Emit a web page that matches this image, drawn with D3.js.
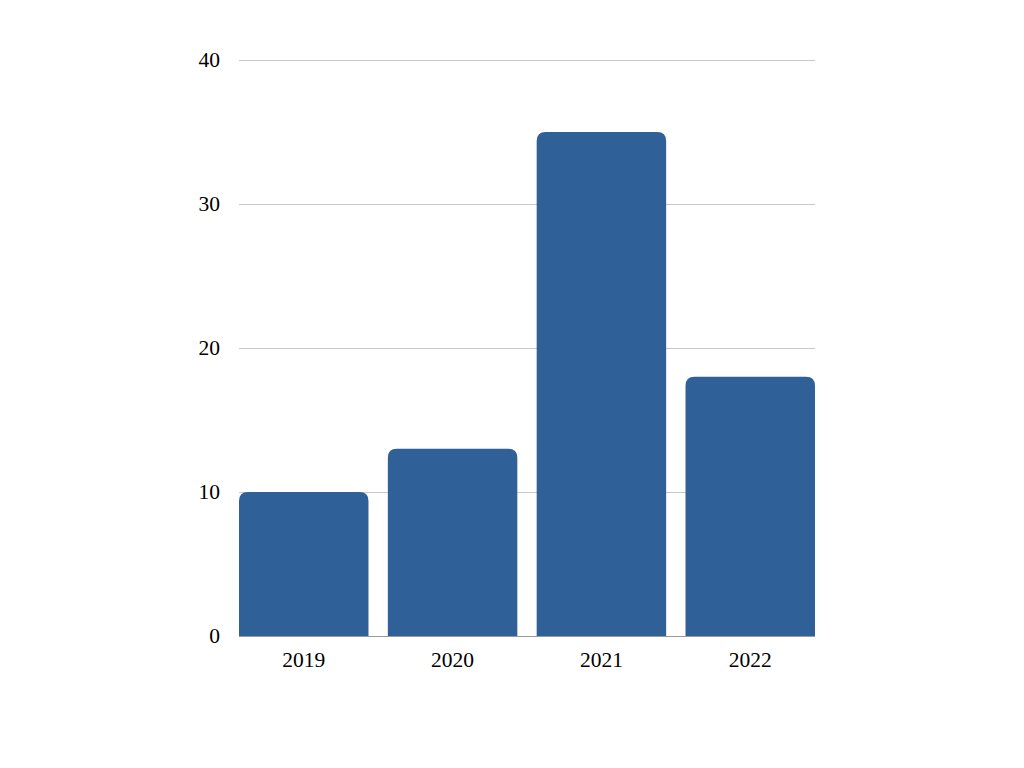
<!DOCTYPE html>
<html>
<head>
<meta charset="utf-8">
<script src="https://cdn.jsdelivr.net/npm/d3@7"></script>
<style>
    body { margin: 0; background: #fff; }
    text { font-family: 'Liberation Serif', 'DejaVu Serif', serif; }
</style>
</head>
<body>
<div id="chart"></div>
<script>
const years = ['2019', '2020', '2021', '2022'];
const counts = [10, 13, 35, 18];
const yTicks = [0, 10, 20, 30, 40];

const width = 1024, height = 768;
const margin = { top: 60, right: 209, bottom: 132, left: 239 };
const w = width - margin.left - margin.right;
const h = height - margin.top - margin.bottom;

const svg = d3.select('#chart')
    .append('svg')
    .attr('width', width)
    .attr('height', height);

const g = svg.append('g')
    .attr('transform', `translate(${margin.left},${margin.top})`);

const x = d3.scaleBand()
    .domain(years)
    .range([0, w])
    .paddingInner(0.13)
    .paddingOuter(0);

const y = d3.scaleLinear()
    .domain([0, 40])
    .range([h, 0]);

// Gridlines
g.selectAll('.grid')
    .data(yTicks.filter(d => d > 0))
    .enter()
    .append('line')
    .attr('x1', 0)
    .attr('x2', w)
    .attr('y1', d => y(d) + 0.5)
    .attr('y2', d => y(d) + 0.5)
    .style('stroke', '#c8c8c8')
    .style('stroke-width', 1)
    .style('shape-rendering', 'crispEdges');

// Y axis labels
const yAxis = g.append('g')
    .call(d3.axisLeft(y).tickValues(yTicks).tickSize(0).tickPadding(19));
yAxis.select('.domain').remove();
yAxis.selectAll('text')
    .style('fill', '#000')
    .style('font-size', '21.5px')
    .style('font-family', "'Liberation Serif', 'DejaVu Serif', serif");

// Bars with rounded top corners
const r = 9;
g.selectAll('.bar')
    .data(years.map((yr, i) => ({ yr, v: counts[i] })))
    .enter()
    .append('path')
    .attr('class', 'bar')
    .attr('d', d => {
        const x0 = x(d.yr), x1 = x0 + x.bandwidth();
        const y0 = y(d.v), yb = y(0);
        return `M${x0},${yb}V${y0 + r}Q${x0},${y0} ${x0 + r},${y0}H${x1 - r}Q${x1},${y0} ${x1},${y0 + r}V${yb}Z`;
    })
    .style('fill', '#2f6098');

// Baseline
g.append('line')
    .attr('x1', 0)
    .attr('x2', w)
    .attr('y1', y(0) + 0.5)
    .attr('y2', y(0) + 0.5)
    .style('stroke', '#999999')
    .style('stroke-width', 1)
    .style('shape-rendering', 'crispEdges');

// X axis labels
const xAxis = g.append('g')
    .attr('transform', `translate(0,${h})`)
    .call(d3.axisBottom(x).tickSize(0).tickPadding(16));
xAxis.select('.domain').remove();
xAxis.selectAll('text')
    .style('fill', '#000')
    .style('font-size', '21.5px')
    .style('font-family', "'Liberation Serif', 'DejaVu Serif', serif");
</script>
</body>
</html>
